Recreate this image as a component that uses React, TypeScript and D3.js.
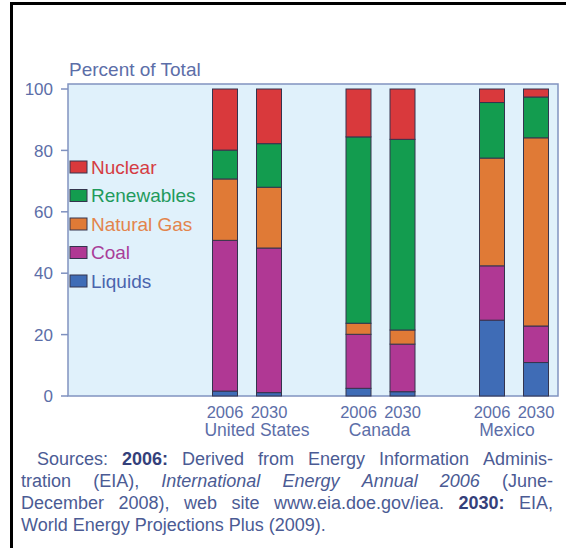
import React, { useEffect, useRef } from "react";
import * as d3 from "d3";

const countries = ["United States", "Canada", "Mexico"];
const years = ["2006", "2030"];
const fuels = ["Liquids", "Coal", "Natural Gas", "Renewables", "Nuclear"];
// values in order: US2006, US2030, CA2006, CA2030, MX2006, MX2030
const liquids = [1.6, 1.1, 2.5, 1.4, 24.7, 10.9];
const coal = [49.1, 47.1, 17.6, 15.5, 17.7, 11.9];
const naturalGas = [20.0, 19.8, 3.6, 4.6, 35.1, 61.3];
const renewables = [9.4, 14.2, 60.7, 62.1, 18.1, 13.3];
const nuclear = [19.9, 17.8, 15.6, 16.4, 4.4, 2.6];
const yTicks = [0, 20, 40, 60, 80, 100];
const legendOrder = ["Nuclear", "Renewables", "Natural Gas", "Coal", "Liquids"];
const yAxisTitle = "Percent of Total";

type Word = { w: string; s?: "b" | "i" };
const sourceLines: Word[][] = [
  [{ w: "Sources:" }, { w: "2006:", s: "b" }, { w: "Derived" }, { w: "from" }, { w: "Energy" }, { w: "Information" }, { w: "Adminis-" }],
  [{ w: "tration" }, { w: "(EIA)," }, { w: "International", s: "i" }, { w: "Energy", s: "i" }, { w: "Annual", s: "i" }, { w: "2006", s: "i" }, { w: "(June-" }],
  [{ w: "December" }, { w: "2008)," }, { w: "web" }, { w: "site" }, { w: "www.eia.doe.gov/iea." }, { w: "2030:", s: "b" }, { w: "EIA," }],
  [{ w: "World" }, { w: "Energy" }, { w: "Projections" }, { w: "Plus" }, { w: "(2009)." }],
];

const fillColors: Record<string, string> = {
  Liquids: "#3f6cb6",
  Coal: "#b03894",
  "Natural Gas": "#e07a36",
  Renewables: "#139c4f",
  Nuclear: "#d9393c",
};
const textColors: Record<string, string> = {
  Liquids: "#4a64ad",
  Coal: "#a93d99",
  "Natural Gas": "#e3844c",
  Renewables: "#1f9a5c",
  Nuclear: "#d53c42",
};
// horizontal nudges of the country captions, as placed in the original
const countryLabelDx = [10, -1, -7];

const FONT = "'Liberation Sans', Arial, Helvetica, sans-serif";
const AXIS_TEXT = "#5c6ea8";

export default function App() {
  const srcRef = useRef<SVGGElement>(null);

  const rows = countries.flatMap((c, i) =>
    years.map((y, j) => {
      const k = i * 2 + j;
      return {
        country: c,
        year: y,
        Liquids: liquids[k],
        Coal: coal[k],
        "Natural Gas": naturalGas[k],
        Renewables: renewables[k],
        Nuclear: nuclear[k],
      } as any;
    })
  );
  const series = d3.stack<any>().keys(fuels)(rows);

  const plot = { left: 68, right: 558, top: 84, bottom: 396 };
  const y = d3.scaleLinear().domain([0, 100]).range([396, 89]);
  const xGroup = d3.scaleBand<string>().domain(countries).range([180.25, 580.75]);
  const bw = xGroup.bandwidth();
  const xYear = d3.scalePoint<string>().domain(years).range([bw / 2 - 22, bw / 2 + 22]);
  const barW = 25;
  const cx = (d: any) => (xGroup(d.country) as number) + (xYear(d.year) as number);

  useEffect(() => {
    const g = d3.select(srcRef.current);
    g.selectAll("*").remove();
    const baselines = [465, 487, 509, 531];
    const starts = [37, 21, 21, 21];
    const rightEdge = 553;
    sourceLines.forEach((line, li) => {
      const nodes = line.map((wd) =>
        g
          .append("text")
          .attr("y", baselines[li])
          .attr("font-family", FONT)
          .attr("font-size", 18)
          .attr("font-weight", wd.s === "b" ? "bold" : "normal")
          .attr("font-style", wd.s === "i" ? "italic" : "normal")
          .attr("fill", wd.s === "b" ? "#34407a" : "#4b5b94")
          .text(wd.w)
      );
      const widths = nodes.map((n) => (n.node() as SVGTextElement).getComputedTextLength());
      const total = widths.reduce((a, b) => a + b, 0);
      const justified = li < sourceLines.length - 1;
      const gap = justified ? (rightEdge - starts[li] - total) / (line.length - 1) : 5;
      let x = starts[li];
      nodes.forEach((n, i) => {
        n.attr("x", x);
        x += widths[i] + gap;
      });
    });
  }, []);

  return (
    <svg
      width={566}
      height={548}
      style={{ position: "absolute", left: 0, top: 0, background: "#ffffff" }}
      fontFamily={FONT}
    >
      <rect x={0} y={0} width={566} height={548} fill="#ffffff" />
      {/* frame */}
      <line x1={10} x2={566} y1={3.5} y2={3.5} stroke="#000" strokeWidth={3} />
      <line x1={11.5} x2={11.5} y1={2} y2={548} stroke="#000" strokeWidth={3} />

      {/* plot background */}
      <rect
        x={plot.left}
        y={plot.top}
        width={plot.right - plot.left}
        height={plot.bottom - plot.top}
        fill="#e0f1fb"
        stroke="#8193c0"
        strokeWidth={1.5}
      />

      {/* y axis title */}
      <text x={69} y={75.5} fontSize={19} fill={AXIS_TEXT}>
        {yAxisTitle}
      </text>

      {/* y ticks */}
      {yTicks.map((t) => (
        <g key={t}>
          <line x1={61} x2={plot.left} y1={y(t)} y2={y(t)} stroke="#7f91bf" strokeWidth={1.5} />
          <text x={53} y={y(t)} dy="0.36em" textAnchor="end" fontSize={17} fill={AXIS_TEXT}>
            {t}
          </text>
        </g>
      ))}

      {/* bars */}
      {series.map((s) => (
        <g key={s.key} fill={fillColors[s.key]}>
          {s.map((d, i) => (
            <rect
              key={i}
              x={cx(d.data) - barW / 2}
              y={y(d[1])}
              width={barW}
              height={y(d[0]) - y(d[1])}
              stroke="#34344e"
              strokeWidth={1}
            />
          ))}
        </g>
      ))}

      {/* legend */}
      {legendOrder.map((k, i) => {
        const cy = 167 + i * 28.5;
        return (
          <g key={k}>
            <rect x={70} y={cy - 6} width={17} height={12} fill={fillColors[k]} stroke="#34344e" strokeWidth={1} />
            <text x={91} y={cy} dy="0.36em" fontSize={19} fill={textColors[k]}>
              {k}
            </text>
          </g>
        );
      })}

      {/* x labels */}
      {rows.map((d, i) => (
        <text key={i} x={cx(d)} y={418} textAnchor="middle" fontSize={16.5} fill={AXIS_TEXT}>
          {d.year}
        </text>
      ))}
      {countries.map((c, i) => (
        <text
          key={c}
          x={(xGroup(c) as number) + bw / 2 + countryLabelDx[i]}
          y={436}
          textAnchor="middle"
          fontSize={17.5}
          fill={AXIS_TEXT}
        >
          {c}
        </text>
      ))}

      <g ref={srcRef} />
    </svg>
  );
}
